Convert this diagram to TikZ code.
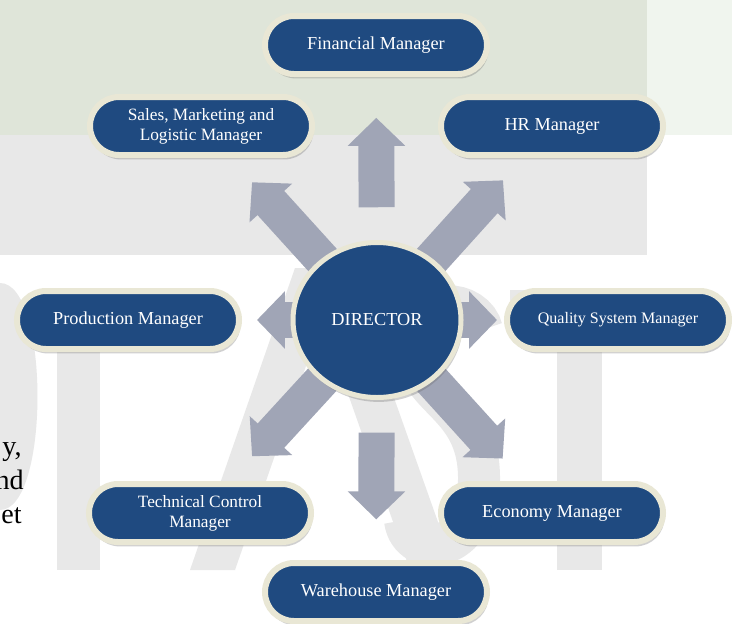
\documentclass[tikz,border=0pt]{standalone}
\usepackage{fontspec}
\setmainfont{Liberation Serif}
\usetikzlibrary{shapes.misc,shapes.geometric,shadows,calc,arrows.meta}

\definecolor{pillblue}{RGB}{31,74,128}
\definecolor{pillrim}{RGB}{233,231,213}
\definecolor{arrowgray}{RGB}{160,165,182}
\definecolor{bandgreen}{RGB}{223,229,217}
\definecolor{palegreen}{RGB}{240,245,238}
\definecolor{markgray}{RGB}{232,232,232}

\pgfdeclarelayer{paper}
\pgfdeclarelayer{arrows}
\pgfsetlayers{paper,arrows,main}

\tikzset{
	manager/.style={rounded rectangle, fill=pillblue, draw=pillrim, line width=1.5mm,
		minimum width=57.5mm, minimum height=14.5mm, inner sep=1mm, text=white, align=center,
		font=\fontsize{13pt}{15pt}\selectfont,
		drop shadow={shadow xshift=0.4mm, shadow yshift=-1.1mm, opacity=0.3, fill=black!60}},
	twoline/.style={font=\fontsize{12.3pt}{14.2pt}\selectfont},
	director/.style={ellipse, fill=pillblue, draw=pillrim, line width=1.25mm,
		minimum width=42mm, minimum height=38.75mm, text=white,
		font=\fontsize{13pt}{15pt}\selectfont,
		drop shadow={shadow xshift=0.4mm, shadow yshift=-1.1mm, opacity=0.3, fill=black!60}},
	blockarrow/.style={draw=arrowgray, line width=9mm, -{Triangle[length=7mm,width=14mm]}},
	pagetext/.style={anchor=base east, inner sep=0pt, font=\fontsize{20pt}{24pt}\selectfont}
}

\begin{document}
\begin{tikzpicture}[x=0.25mm,y=-0.25mm]
	\useasboundingbox (0,0) rectangle (732,623);
	
	%PAPER (bands, watermark, cut text)
	\begin{pgfonlayer}{paper}
	\fill[white] (0,0) rectangle (732,623);
	\fill[bandgreen] (0,0) rectangle (647,135);
	\fill[palegreen] (647,0) rectangle (732,135);
	\fill[markgray] (0,135) rectangle (647,255);
	%
	\fill[markgray] (0,283) .. controls (50,283) and (50,510) .. (0,510) -- cycle;	%bowl
	\fill[markgray] (57,290) rectangle (100,570);	%bar
	\fill[markgray] (190,570)--(295,268)--(348,268)--(455,570)--(410,570)--(322,320)--(235,570)--cycle; %A
	\draw[markgray,line width=10.5mm] (482,330) .. controls (475,300) and (418,292) .. (416,345)
		.. controls (414,400) and (480,400) .. (479,480) .. controls (478,555) and (410,560) .. (405,520); %S
	\fill[markgray] (510,290) rectangle (650,335);	%T, top
	\fill[markgray] (557,290) rectangle (602,570);	%T, stem
	%
	\node[pagetext] (lineone) at (22,455) {y,};
	\node[pagetext] (linetwo) at (24,489) {nd};
	\node[pagetext] (linethree) at (22,523) {et};
	\end{pgfonlayer}
	
	%MANAGERS
	\node[manager] (fin) at (376,45) {Financial Manager};
	\node[manager,twoline] (sal) at (201,126) {Sales, Marketing and\\Logistic Manager};
	\node[manager] (hr) at (552,126) {HR Manager};
	\node[manager] (prod) at (128,320) {Production Manager};
	\node[manager,font=\fontsize{11.4pt}{13pt}\selectfont] (qual) at (618,320) {Quality System Manager};
	\node[manager,twoline] (tech) at (200,513) {Technical Control\\Manager};
	\node[manager] (eco) at (552,513) {Economy Manager};
	\node[manager] (ware) at (376,592) {Warehouse Manager};
	\node[director] (dir) at (377,320) {DIRECTOR};
	
	%BLOCK ARROWS
	\begin{pgfonlayer}{arrows}
	\draw[blockarrow] ($(dir)!0.41!(fin)$) -- ($(dir)!0.735!(fin)$);
	\draw[blockarrow] ($(dir)!0.30!(sal)$) -- ($(dir)!0.71!(sal)$);
	\draw[blockarrow] ($(dir)!0.30!(hr)$) -- ($(dir)!0.72!(hr)$);
	\draw[blockarrow] ($(dir)!0.20!(prod)$) -- ($(dir)!0.482!(prod)$);
	\draw[blockarrow] ($(dir)!0.20!(qual)$) -- ($(dir)!0.498!(qual)$);
	\draw[blockarrow] ($(dir)!0.30!(tech)$) -- ($(dir)!0.706!(tech)$);
	\draw[blockarrow] ($(dir)!0.30!(eco)$) -- ($(dir)!0.718!(eco)$);
	\draw[blockarrow] ($(dir)!0.414!(ware)$) -- ($(dir)!0.733!(ware)$);
	\end{pgfonlayer}
\end{tikzpicture}
\end{document}
